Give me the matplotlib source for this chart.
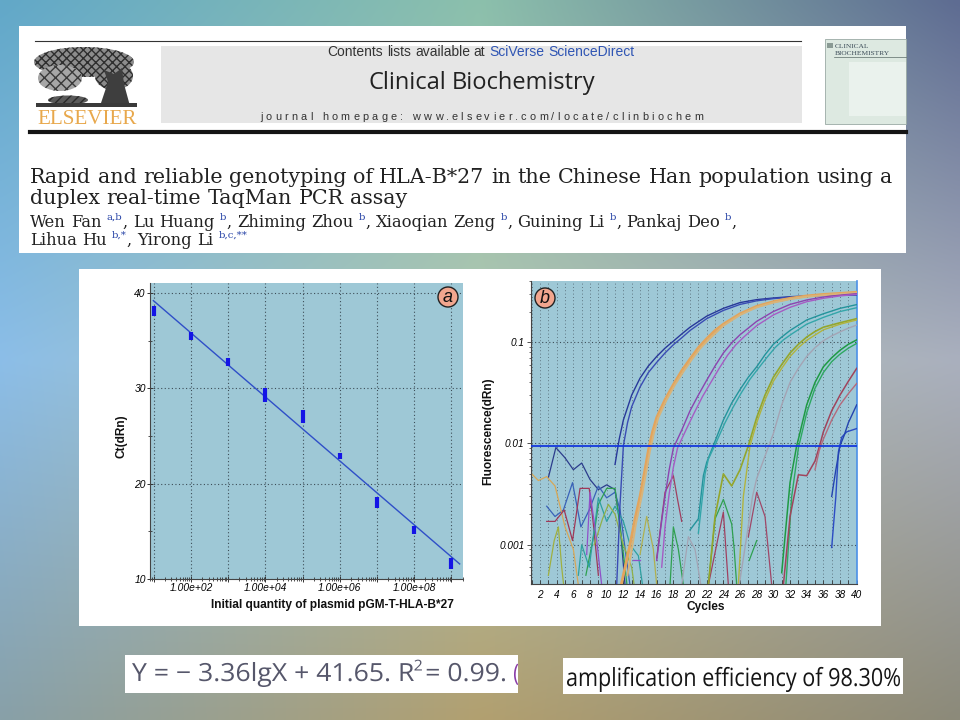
import numpy as np
import matplotlib
matplotlib.use('Agg')
import matplotlib.pyplot as plt
from matplotlib.font_manager import FontProperties
from matplotlib.patches import Rectangle, Circle, Ellipse, Polygon, PathPatch
from matplotlib.textpath import TextPath
from matplotlib.transforms import Affine2D
from matplotlib.ticker import FixedLocator, FixedFormatter, LogLocator, MultipleLocator, NullFormatter

# ---------------- panel a : standard curve ----------------
qty = [1e1, 1e2, 1e3, 1e4, 1e5, 1e6, 1e7, 1e8, 1e9]
ct_high = [38.67, 35.9, 33.16, 30.0, 27.7, 23.26, 18.56, 15.55, 12.2]
ct_low = [37.61, 35.1, 32.39, 28.6, 26.4, 22.63, 17.44, 14.74, 11.1]
fit_qty = [9.8, 1.66e9]
fit_ct = [39.2, 11.58]
a_xticks = [1e1, 1e2, 1e3, 1e4, 1e5, 1e6, 1e7, 1e8, 1e9]
a_xticklabels = ['', '1.00e+02', '', '1.00e+04', '', '1.00e+06', '', '1.00e+08', '']
a_yticks = [10, 20, 30, 40]
a_yticklabels = ['10', '20', '30', '40']
a_yminor = [15, 25, 35]

# ---------------- panel b : amplification plot ----------------
b_xticks = [2, 4, 6, 8, 10, 12, 14, 16, 18, 20, 22, 24, 26, 28, 30, 32, 34, 36, 38, 40]
b_xticklabels = ['2', '4', '6', '8', '10', '12', '14', '16', '18', '20',
                 '22', '24', '26', '28', '30', '32', '34', '36', '38', '40']
b_yticks = [0.001, 0.01, 0.1]
b_yticklabels = ['0.001', '0.01', '0.1']
threshold = 0.0095

# amplification curves (cycle, dRn)
blue1_c = [11, 11.5, 12, 13, 14, 15, 16, 17, 18, 19, 20, 22, 24, 26, 28, 30, 32, 34, 36, 38, 40]
blue1_f = [0.0062, 0.011, 0.017, 0.03, 0.044, 0.058, 0.072, 0.087, 0.102, 0.12, 0.14, 0.18, 0.215,
           0.245, 0.262, 0.272, 0.28, 0.285, 0.29, 0.292, 0.295]
blue2_c = [11.2, 11.6, 12, 12.5, 13, 14, 15, 16, 17, 18, 19, 20, 22, 24, 26, 28, 30, 32, 34, 36, 38, 40]
blue2_f = [0.0004, 0.0025, 0.0095, 0.016, 0.023, 0.036, 0.05, 0.063, 0.078, 0.094, 0.11, 0.13, 0.17,
           0.205, 0.235, 0.255, 0.268, 0.277, 0.283, 0.288, 0.29, 0.29]
orange1_c = [11.4, 12.8, 13.4, 14, 14.5, 15, 15.5, 16, 17, 18, 19, 20, 21, 22, 23, 24, 26, 28, 30,
             32, 34, 36, 38, 40]
orange1_f = [0.0003, 0.001, 0.0018, 0.003, 0.005, 0.0085, 0.013, 0.018, 0.027, 0.038, 0.052, 0.068,
             0.088, 0.108, 0.13, 0.15, 0.19, 0.225, 0.25, 0.27, 0.285, 0.295, 0.302, 0.31]
orange2_c = [12.5, 13.5, 14.2, 14.7, 15.2, 15.7, 16.2, 17.2, 18.2, 19.2, 20.2, 21.2, 22.2, 24, 26,
             28, 30, 32, 34, 36, 38, 40]
orange2_f = [0.0005, 0.0016, 0.003, 0.005, 0.0085, 0.013, 0.018, 0.027, 0.038, 0.051, 0.067, 0.086,
             0.105, 0.145, 0.185, 0.22, 0.245, 0.265, 0.28, 0.29, 0.298, 0.305]
purple1_c = [16, 16.5, 17, 17.5, 18, 19, 20, 21, 22, 23, 24, 25, 26, 28, 30, 32, 34, 36, 38, 40]
purple1_f = [0.0007, 0.0015, 0.003, 0.0055, 0.009, 0.0135, 0.021, 0.03, 0.042, 0.058, 0.078, 0.098,
             0.118, 0.16, 0.2, 0.235, 0.26, 0.278, 0.29, 0.3]
purple2_c = [16.6, 17, 17.5, 18, 18.5, 19.5, 20.5, 21.5, 22.5, 23.5, 24.5, 25.5, 26.5, 28, 30, 32,
             34, 36, 38, 40]
purple2_f = [0.0006, 0.0015, 0.0032, 0.0058, 0.009, 0.0135, 0.02, 0.029, 0.04, 0.055, 0.074, 0.094,
             0.113, 0.145, 0.185, 0.22, 0.25, 0.27, 0.285, 0.295]
teal1_c = [20, 21, 21.6, 22, 23, 24, 25, 26, 27, 28, 29, 30, 31, 32, 34, 36, 38, 40]
teal1_f = [0.0014, 0.0018, 0.0048, 0.0065, 0.0105, 0.017, 0.025, 0.034, 0.045, 0.057, 0.075, 0.095,
           0.112, 0.13, 0.165, 0.19, 0.215, 0.234]
teal2_c = [21, 21.8, 22.2, 23.2, 24.2, 25.2, 26.2, 27.2, 28.2, 29.2, 30.2, 31.2, 32.2, 34, 36, 38, 40]
teal2_f = [0.0013, 0.005, 0.007, 0.0105, 0.016, 0.023, 0.032, 0.043, 0.055, 0.07, 0.088, 0.105,
           0.12, 0.15, 0.175, 0.2, 0.218]
olive1_c = [22.2, 23, 24, 25, 26, 27, 28, 29, 30, 31, 32, 33, 34, 35, 36, 38, 40]
olive1_f = [0.0004, 0.0019, 0.005, 0.0038, 0.0055, 0.0095, 0.018, 0.03, 0.045, 0.06, 0.078, 0.095,
            0.112, 0.127, 0.14, 0.155, 0.17]
olive2_c = [25.8, 26.4, 27.2, 28, 29, 30, 31, 32, 33, 34, 36, 38, 40]
olive2_f = [0.0004, 0.003, 0.0095, 0.016, 0.027, 0.041, 0.055, 0.072, 0.088, 0.104, 0.132, 0.15, 0.165]
gray_c = [25.9, 26.8, 27.5, 28, 29, 30, 31, 32, 33, 34, 35, 36, 37, 38, 39, 40]
gray_f = [0.0004, 0.0012, 0.003, 0.0045, 0.0075, 0.0125, 0.024, 0.04, 0.055, 0.072, 0.088, 0.103,
          0.115, 0.126, 0.137, 0.147]
green1_c = [31, 32, 32.8, 33, 34, 35, 36, 37, 38, 39, 40]
green1_f = [0.00053, 0.0041, 0.0095, 0.011, 0.024, 0.04, 0.057, 0.07, 0.083, 0.095, 0.105]
green2_c = [31.5, 32.2, 33, 34, 35, 36, 37, 38, 39, 40]
green2_f = [0.0004, 0.003, 0.009, 0.02, 0.035, 0.05, 0.064, 0.076, 0.087, 0.097]
maroon1_c = [31.2, 32, 33, 34, 35, 35.6, 36, 37, 38, 39, 40]
maroon1_f = [0.0004, 0.0019, 0.0049, 0.0048, 0.0067, 0.0098, 0.013, 0.021, 0.03, 0.041, 0.055]
mauve_c = [35, 35.5, 36, 37, 38, 39, 40]
mauve_f = [0.0055, 0.0085, 0.011, 0.017, 0.024, 0.031, 0.039]
lateblue1_c = [37, 37.5, 37.8, 38.2, 38.8, 40]
lateblue1_f = [0.00094, 0.003, 0.0082, 0.0115, 0.013, 0.014]
lateblue2_c = [37, 37.5, 38, 38.5, 39, 40]
lateblue2_f = [0.003, 0.0055, 0.0095, 0.012, 0.016, 0.024]

# baseline noise traces
navy_n_c = [3, 3.9, 5, 6, 7, 8, 9, 10, 11, 11.6, 12.2]
navy_n_f = [0.0046, 0.0091, 0.0072, 0.0055, 0.0064, 0.0044, 0.0035, 0.0039, 0.0035, 0.0016, 0.0004]
blue_n_c = [2.8, 3.8, 4.8, 5.9, 6.9, 7.9, 9, 10, 11, 11.6, 12.5, 13]
blue_n_f = [0.0024, 0.0019, 0.0022, 0.0041, 0.0015, 0.0022, 0.0038, 0.0029, 0.0033, 0.0022, 0.0006, 0.0003]
tan_n_c = [0.9, 1.8, 2.8, 3.8, 4.4, 5, 6, 6.6]
tan_n_f = [0.0051, 0.0043, 0.0047, 0.0038, 0.0024, 0.0015, 0.0009, 0.0004]
maroon_n_c = [2.8, 3.8, 4.9, 5.9, 6.8, 7.9, 8.4, 9]
maroon_n_f = [0.0017, 0.0017, 0.0022, 0.0011, 0.0036, 0.0036, 0.0016, 0.0005]
green_n_c = [7.5, 8.5, 9, 10, 11, 11.6, 12.2, 12.6]
green_n_f = [0.0005, 0.0013, 0.0025, 0.0036, 0.0036, 0.0015, 0.0006, 0.0003]
teal_n_c = [6.6, 7, 7.9, 9, 10, 11, 12, 12.8, 13.8, 14.3]
teal_n_f = [0.0005, 0.001, 0.0006, 0.0029, 0.0017, 0.0024, 0.0017, 0.001, 0.00078, 0.0004]
olive_n1_c = [3, 3.7, 4.2, 4.6, 5]
olive_n1_f = [0.0005, 0.0011, 0.0015, 0.0006, 0.0003]
olive_n2_c = [8.5, 9.5, 10.2, 11, 12, 13, 13.5]
olive_n2_f = [0.001, 0.0018, 0.0025, 0.002, 0.001, 0.0006, 0.0003]
olive_n3_c = [14, 14.8, 15.6, 16]
olive_n3_f = [0.0008, 0.0019, 0.0009, 0.0004]
purple_n1_c = [7.6, 8, 8.8, 9.4]
purple_n1_f = [0.0008, 0.0033, 0.0011, 0.0004]
purple_n2_c = [13.2, 14]
purple_n2_f = [0.0007, 0.0007]
maroon_n2_c = [16, 17, 18, 18.5, 19]
maroon_n2_f = [0.00074, 0.0033, 0.0048, 0.0028, 0.0017]
green_n2_c = [17.6, 18, 18.6, 19.2]
green_n2_f = [0.0004, 0.0015, 0.0009, 0.0004]
gray_n_c = [19, 19.8, 20.6, 21.3]
gray_n_f = [0.0004, 0.0012, 0.0009, 0.0004]
green_n3_c = [22.2, 23, 24, 25, 25.3, 25.6]
green_n3_f = [0.0004, 0.0018, 0.0028, 0.0016, 0.0009, 0.0004]
maroon_n3_c = [22.2, 24, 24.6]
maroon_n3_f = [0.0004, 0.0021, 0.0004]
maroon_n4_c = [27, 28, 29, 29.8]
maroon_n4_f = [0.0012, 0.0033, 0.0019, 0.0004]
green_n4_c = [27.1, 28]
green_n4_f = [0.0007, 0.0011]

# ---------------- slide texts ----------------
journal = 'Clinical Biochemistry'
homepage = 'journal homepage: www.elsevier.com/locate/clinbiochem'
title_1 = 'Rapid and reliable genotyping of HLA-B*27 in the Chinese Han population using a'
title_2 = 'duplex real-time TaqMan PCR assay'
eq_main = 'Y = − 3.36lgX + 41.65. R'
eq_sup = '2'
eq_tail = '= 0.99.'
eff_text = 'amplification efficiency of 98.30%'

W, H = 960, 720
fig = plt.figure(figsize=(9.6, 7.2), dpi=100)
R = fig.canvas.get_renderer()

SERIF = 'DejaVu Serif'
SANS = 'Liberation Sans'
SQUEEZE = 'Open Sans'


def px_axes(x0, y0, x1, y1):
    return fig.add_axes([x0 / W, 1 - y1 / H, (x1 - x0) / W, (y1 - y0) / H])


# slide background (soft 3x3 gradient)
bg = fig.add_axes([0, 0, 1, 1])
bg.set_zorder(-3)
bg.set_axis_off()
corners = np.array([
    [[98, 168, 200], [140, 192, 172], [94, 108, 146]],
    [[140, 190, 232], [178, 198, 176], [170, 176, 190]],
    [[136, 160, 168], [178, 160, 112], [140, 138, 122]],
], dtype=float) / 255
gx = np.linspace(0, 2, 240)
gy = np.linspace(0, 2, 180)
img = np.empty((180, 240, 3))
for c in range(3):
    rows = [np.interp(gx, [0, 1, 2], corners[r, :, c]) for r in range(3)]
    for j in range(240):
        img[:, j, c] = np.interp(gy, [0, 1, 2], [rows[0][j], rows[1][j], rows[2][j]])
bg.imshow(img, extent=[0, 1, 0, 1], aspect='auto', interpolation='bicubic', origin='upper')

# pixel overlay for the slide pieces
ov = fig.add_axes([0, 0, 1, 1])
ov.set_zorder(-1)
ov.set_xlim(0, W)
ov.set_ylim(H, 0)
ov.set_axis_off()


def measure(s, fs, family, weight='normal', style='normal'):
    t = ov.text(0, 0, s, fontsize=fs, family=family, weight=weight, style=style)
    w = t.get_window_extent(R).width
    t.remove()
    return w


def draw_runs(x, y, runs, fs, family, weight='normal', dry=False):
    sp = measure('n n', fs, family, weight) - measure('nn', fs, family, weight)
    cx = x
    for s, color, sup in runs:
        size = fs * 0.62 if sup else fs
        ssp = sp * 0.62 if sup else sp
        dy = -0.42 * fs * 100 / 72 if sup else 0
        for i, ch in enumerate(s.split(' ')):
            if i > 0:
                cx += ssp
            if ch == '':
                continue
            if dry:
                w = measure(ch, size, family, weight)
            else:
                t = ov.text(cx, y + dy, ch, fontsize=size, color=color, family=family,
                            weight=weight, va='baseline', ha='left')
                w = t.get_window_extent(R).width
            cx += w
    return cx - x


def fit_size(runs, target, family, weight='normal'):
    return 10 * target / draw_runs(0, 0, runs, 10, family, weight, dry=True)


def tracked(x, y, s, fs, family, width, color):
    # letter-spaced line: natural advance of each prefix plus even extra spacing
    ref = measure('l', fs, family)
    pos = [0.0] + [measure(s[:i] + 'l', fs, family) - ref for i in range(1, len(s))]
    extra = (width - (measure(s, fs, family))) / (len(s) - 1)
    for i, ch in enumerate(s):
        if ch != ' ':
            ov.text(x + pos[i] + i * extra, y, ch, fontsize=fs, family=family, color=color,
                    va='baseline', ha='left')


def squeezed(x, y, pieces, em, width, family, clip=None):
    # pieces: (text, color, scale, raise_em, gap_em_before) drawn as horizontally condensed paths
    paths = []
    natural = 0.0
    for s, color, scale, rise, gap in pieces:
        tp = TextPath((0, 0), s, size=em * scale, prop=FontProperties(family=family))
        bb = tp.get_extents()
        natural += gap * em + bb.width
        paths.append((tp, bb, color, rise, gap))
    sx = width / natural
    cx = x
    for tp, bb, color, rise, gap in paths:
        cx += gap * em * sx
        tr = Affine2D().translate(-bb.x0, rise * em).scale(sx, -1).translate(cx, y)
        p = PathPatch(tr.transform_path(tp), fc=color, ec='none', lw=0)
        ov.add_patch(p)
        if clip is not None:
            p.set_clip_path(clip)
        cx += bb.width * sx
    return cx


# ---- journal header ----
hdr = Rectangle((19, 26), 887, 227, fc='white', ec='none')
ov.add_patch(hdr)
ov.plot([35, 801], [40.7, 40.7], color='#333333', lw=0.8)
ov.add_patch(Rectangle((161, 46), 641, 77, fc='#e6e6e6', ec='none'))
ov.plot([30, 906], [132, 132], color='#151515', lw=3)

# elsevier tree, rough engraving
ov.add_patch(Ellipse((84, 62), 100, 30, fc='#8c8c8c', ec='#2e2e2e', hatch='xxxx', lw=0))
ov.add_patch(Ellipse((60, 78), 44, 26, fc='#a6a6a6', ec='#3a3a3a', hatch='xxx', lw=0))
ov.add_patch(Ellipse((114, 76), 38, 28, fc='#8a8a8a', ec='#2e2e2e', hatch='xxxx', lw=0))
ov.add_patch(Polygon([(100, 106), (108, 82), (104, 70), (114, 74), (122, 68), (124, 84), (130, 106)],
                     closed=True, fc='#3e3e3e', ec='none'))
ov.add_patch(Ellipse((68, 100), 40, 9, fc='#5a5a5a', ec='#2a2a2a', hatch='////', lw=0))
ov.add_patch(Rectangle((36, 103), 101, 4, fc='#3a3a3a', ec='none'))
ev_fs = fit_size([('ELSEVIER', '#e6a34a', False)], 100, 'Liberation Serif')
draw_runs(37, 124, [('ELSEVIER', '#e8a84c', False)], ev_fs, 'Liberation Serif')

contents = [('Contents lists available at', '#333333', False), (' SciVerse ScienceDirect', '#2f55b4', False)]
c_fs = fit_size(contents, 308, SANS)
cw = draw_runs(0, 0, contents, c_fs, SANS, dry=True)
draw_runs(481 - cw / 2, 55.5, contents, c_fs, SANS)

j_runs = [(journal, '#222222', False)]
j_fs = fit_size(j_runs, 228, 'Open Sans')
jw = draw_runs(0, 0, j_runs, j_fs, 'Open Sans', dry=True)
draw_runs(482 - jw / 2, 89, j_runs, j_fs, 'Open Sans')

tracked(260, 120.5, homepage, 7.8, SANS, 443, '#333333')

# journal cover thumbnail
cover = Rectangle((825, 39), 81, 85, fc='#dde9e1', ec='#9aaaa4', lw=0.6)
ov.add_patch(cover)
ov.add_patch(Rectangle((849, 62), 57, 54, fc='#eaf2ed', ec='none'))
ov.add_patch(Rectangle((827, 43), 6, 5, fc='#8a9a94', ec='none'))
ov.plot([834, 906], [57, 57], color='#5a6a66', lw=0.5)
for txt, yy in [('CLINICAL', 48.5), ('BIOCHEMISTRY', 55)]:
    t = ov.text(835, yy, txt, fontsize=5.4, family='Liberation Serif', color='#3c4c58', va='baseline')
    t.set_clip_on(True)
    t.set_clip_path(cover)

# article title and authors
t_fs = fit_size([(title_1, '#222', False)], 867, SERIF)
draw_runs(30, 183, [(title_1, '#222222', False)], t_fs, SERIF)
draw_runs(30, 204.5, [(title_2, '#222222', False)], t_fs, SERIF)

BLK, SUP = '#222222', '#2a46a8'
authors_1 = [('Wen Fan ', BLK, False), ('a,b', SUP, True), (', Lu Huang ', BLK, False), ('b', SUP, True),
             (', Zhiming Zhou ', BLK, False), ('b', SUP, True), (', Xiaoqian Zeng ', BLK, False),
             ('b', SUP, True), (', Guining Li ', BLK, False), ('b', SUP, True),
             (', Pankaj Deo ', BLK, False), ('b', SUP, True), (',', BLK, False)]
authors_2 = [('Lihua Hu ', BLK, False), ('b,*', SUP, True), (', Yirong Li ', BLK, False),
             ('b,c,**', SUP, True)]
au_fs = fit_size(authors_1, 711, SERIF)
draw_runs(30, 227, authors_1, au_fs, SERIF)
draw_runs(30, 245, authors_2, au_fs, SERIF)

# ---- figure panel box ----
ov.add_patch(Rectangle((79, 269), 802, 357, fc='white', ec='none'))

# ---- equation boxes ----
box1 = Rectangle((125, 655), 393, 38, fc='white', ec='none')
ov.add_patch(box1)
ov.add_patch(Rectangle((563, 658), 340, 36, fc='white', ec='none'))
eq_col = '#56576b'
squeezed(132, 681, [(eq_main, eq_col, 1.0, 0, 0), (eq_sup, eq_col, 0.6, 0.42, 0.02),
                    (eq_tail, eq_col, 1.0, 0, 0.18)], 25, 373, SQUEEZE)
squeezed(514, 681, [('(', '#8a3ca8', 1.0, 0, 0)], 24, 4.5, SQUEEZE, clip=box1)
squeezed(567, 686, [(eff_text, '#151515', 1.0, 0, 0)], 25, 333, SQUEEZE)

PLOT_BG = '#9ec8d6'
GRID = dict(color='#3d4e58', linestyle=(0, (1, 2.2)), linewidth=0.8)

# ---------------- panel a ----------------
axa = px_axes(150, 283, 463, 579)
axa.set_zorder(1)
axa.set_facecolor(PLOT_BG)
axa.set_xscale('log')
axa.vlines(qty, ct_low, ct_high, color='#1414e6', lw=3, zorder=3)
axa.plot(fit_qty, fit_ct, color='#2f4fc8', lw=1.0, zorder=2)
axa.set_xlim(10 ** 0.9, 10 ** 9.31)
axa.set_ylim(10, 41.05)
axa.xaxis.set_major_locator(FixedLocator(a_xticks))
axa.xaxis.set_major_formatter(FixedFormatter(a_xticklabels))
axa.xaxis.set_minor_locator(LogLocator(base=10, subs=np.arange(2, 10), numticks=30))
axa.xaxis.set_minor_formatter(NullFormatter())
axa.yaxis.set_major_locator(FixedLocator(a_yticks))
axa.yaxis.set_major_formatter(FixedFormatter(a_yticklabels))
axa.yaxis.set_minor_locator(FixedLocator(a_yminor))
axa.tick_params(which='major', direction='inout', length=4, width=0.7, color='#333333',
                labelsize=7.4, pad=1)
axa.tick_params(which='minor', direction='inout', length=2.5, width=0.6, color='#333333')
axa.grid(True, which='major', **GRID)
for s in ['top', 'right']:
    axa.spines[s].set_visible(False)
for s in ['left', 'bottom']:
    axa.spines[s].set_color('#444444')
    axa.spines[s].set_linewidth(0.8)
for lbl in axa.get_xticklabels() + axa.get_yticklabels():
    lbl.set_fontstyle('italic')
    lbl.set_family(SANS)

# ---------------- panel b ----------------
axb = px_axes(530.7, 281, 856.7, 584)
axb.set_zorder(1)
axb.set_facecolor(PLOT_BG)
axb.set_yscale('log')

amp = [(blue1_c, blue1_f, '#28389a', 1.0), (blue2_c, blue2_f, '#3a4cb4', 1.0),
       (orange1_c, orange1_f, '#e3a45c', 2.0), (orange2_c, orange2_f, '#d8b47a', 1.4),
       (purple1_c, purple1_f, '#8c44b0', 1.0), (purple2_c, purple2_f, '#a65cc4', 1.0),
       (teal1_c, teal1_f, '#24949c', 1.0), (teal2_c, teal2_f, '#34a6aa', 1.0),
       (olive1_c, olive1_f, '#94a62c', 1.2), (olive2_c, olive2_f, '#b2b43e', 1.0),
       (gray_c, gray_f, '#a4a4b4', 1.0),
       (green1_c, green1_f, '#1f9a44', 1.1), (green2_c, green2_f, '#2ea862', 1.0),
       (maroon1_c, maroon1_f, '#a0445c', 1.1), (mauve_c, mauve_f, '#b46a7c', 1.0),
       (lateblue1_c, lateblue1_f, '#2c4cc4', 1.0), (lateblue2_c, lateblue2_f, '#2444b0', 1.0)]
noise = [(navy_n_c, navy_n_f, '#2c3c8c'), (blue_n_c, blue_n_f, '#3a62b8'),
         (tan_n_c, tan_n_f, '#d8a858'), (maroon_n_c, maroon_n_f, '#a03858'),
         (green_n_c, green_n_f, '#2fa050'), (teal_n_c, teal_n_f, '#2fa0a0'),
         (olive_n1_c, olive_n1_f, '#a0b040'), (olive_n2_c, olive_n2_f, '#90b048'),
         (olive_n3_c, olive_n3_f, '#b0b050'), (purple_n1_c, purple_n1_f, '#9050c8'),
         (purple_n2_c, purple_n2_f, '#9050c8'), (maroon_n2_c, maroon_n2_f, '#a04060'),
         (green_n2_c, green_n2_f, '#2fa050'), (gray_n_c, gray_n_f, '#a4a4b4'),
         (green_n3_c, green_n3_f, '#2fa050'), (maroon_n3_c, maroon_n3_f, '#a04060'),
         (maroon_n4_c, maroon_n4_f, '#a04868'), (green_n4_c, green_n4_f, '#2fa050')]
for c, f, col in noise:
    axb.plot(c, f, color=col, lw=0.9, zorder=2)
for c, f, col, lw in amp:
    axb.plot(c, f, color=col, lw=lw, zorder=3)
axb.axhline(threshold, color='#1438dc', lw=1.3, zorder=4)

axb.set_xlim(0.88, 40)
axb.set_ylim(4.1e-4, 0.4)
axb.xaxis.set_major_locator(FixedLocator(b_xticks))
axb.xaxis.set_major_formatter(FixedFormatter(b_xticklabels))
axb.xaxis.set_minor_locator(MultipleLocator(1))
axb.yaxis.set_major_locator(FixedLocator(b_yticks))
axb.yaxis.set_major_formatter(FixedFormatter(b_yticklabels))
axb.yaxis.set_minor_locator(LogLocator(base=10, subs=np.arange(2, 10), numticks=20))
axb.yaxis.set_minor_formatter(NullFormatter())
axb.tick_params(axis='x', which='both', direction='in', length=3, width=0.6, color='#333333',
                labelsize=7.2, pad=4)
axb.tick_params(axis='y', which='major', direction='out', length=3, width=0.6, color='#333333',
                labelsize=7.2, pad=1.5)
axb.tick_params(axis='y', which='minor', direction='out', length=1.8, width=0.5, color='#333333')
axb.grid(True, axis='x', which='both', color='#4a5c66', linestyle=(0, (1, 3)), linewidth=0.6)
axb.grid(True, axis='y', which='major', **GRID)
axb.set_axisbelow(True)
axb.spines['top'].set_visible(False)
axb.spines['right'].set_color('#4a90e8')
axb.spines['right'].set_linewidth(1.2)
for s in ['left', 'bottom']:
    axb.spines[s].set_color('#444444')
    axb.spines[s].set_linewidth(0.8)
for lbl in axb.get_xticklabels() + axb.get_yticklabels():
    lbl.set_fontstyle('italic')
    lbl.set_family(SANS)

# axis titles (placed in slide pixels)
lab_fs = fit_size([('Initial quantity of plasmid pGM-T-HLA-B*27', 'k', False)], 243, SANS, weight='bold')
ov.text(332, 605, 'Initial quantity of plasmid pGM-T-HLA-B*27', fontsize=lab_fs, family=SANS,
        weight='bold', ha='center', va='center', color='#111111')
ov.text(122, 436, 'Ct(dRn)', fontsize=lab_fs, family=SANS, weight='bold', rotation=90,
        ha='center', va='center', color='#111111')
ov.text(488, 431, 'Fluorescence(dRn)', fontsize=lab_fs, family=SANS, weight='bold', rotation=90,
        ha='center', va='center', color='#111111')
ov.text(706, 607, 'Cycles', fontsize=lab_fs, family=SANS, weight='bold',
        ha='center', va='center', color='#111111')

# panel badges on top
top = fig.add_axes([0, 0, 1, 1])
top.set_zorder(2)
top.set_xlim(0, W)
top.set_ylim(H, 0)
top.set_axis_off()
for cx, cy, letter in [(448, 297, 'a'), (545, 298, 'b')]:
    top.add_patch(Circle((cx, cy), 10, fc='#f2a68e', ec='#222222', lw=1.0))
    top.text(cx, cy + 0.5, letter, fontsize=13, style='italic', family=SANS,
             ha='center', va='center', color='#111111')

fig.savefig('out.png', dpi=100)
